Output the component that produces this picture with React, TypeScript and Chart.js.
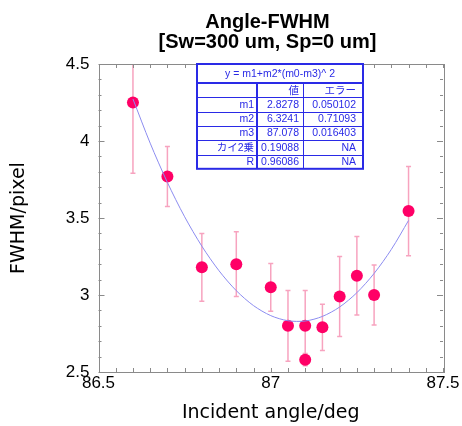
import React, { useEffect, useRef } from "react";
import { Chart, registerables } from "chart.js";

Chart.register(...registerables);

// ---- data ----
const angles = [86.6, 86.7, 86.8, 86.9, 87.0, 87.05, 87.1, 87.1, 87.15, 87.2, 87.25, 87.3, 87.4];
const fwhm = [4.25, 3.77, 3.18, 3.2, 3.05, 2.8, 2.8, 2.58, 2.79, 2.99, 3.125, 3.0, 3.545];
const fwhmErr = [0.46, 0.195, 0.22, 0.21, 0.155, 0.23, 0.23, 0.04, 0.15, 0.26, 0.255, 0.195, 0.29];

const fitAngles = [86.6, 86.65, 86.7, 86.75, 86.8, 86.85, 86.9, 86.95, 87.0, 87.05, 87.1, 87.15, 87.2, 87.25, 87.3, 87.35, 87.4];
const fitFwhm = [4.273, 3.986, 3.731, 3.508, 3.317, 3.157, 3.028, 2.931, 2.866, 2.833, 2.831, 2.861, 2.922, 3.015, 3.14, 3.296, 3.484];

const titleLines = ["Angle-FWHM", "[Sw=300 um, Sp=0 um]"];
const xTitle = "Incident angle/deg";
const yTitle = "FWHM/pixel";

const fitFormula = "y = m1+m2*(m0-m3)^ 2";
const tableHeader = ["", "値", "エラー"];
const tableParams = ["m1", "m2", "m3", "カイ2乗", "R"];
const tableValues = ["2.8278", "6.3241", "87.078", "0.19088", "0.96086"];
const tableErrors = ["0.050102", "0.71093", "0.016403", "NA", "NA"];

const PINK = "#ff0066";
const BAR = "#f7a3bf";
const FIT = "#8c8cf0";
const TBL = "#2a2ae6";
const FRAME = "#8a8a8a";

const titlePlugin = {
  id: "titleText",
  afterDraw(chart: any) {
    const ctx = chart.ctx;
    ctx.save();
    ctx.fillStyle = "#000";
    ctx.font = "bold 20px 'Liberation Sans', Arial, sans-serif";
    ctx.textAlign = "center";
    ctx.textBaseline = "middle";
    ctx.fillText(titleLines[0], 267.5, 22);
    ctx.fillText(titleLines[1], 267.5, 42);
    ctx.restore();
  },
};

const framePlugin = {
  id: "frameTicks",
  afterDatasetsDraw(chart: any) {
    const { ctx, chartArea: a, scales } = chart;
    const xs = scales.x;
    const ys = scales.y;
    ctx.save();
    ctx.strokeStyle = FRAME;
    ctx.lineWidth = 1;
    ctx.strokeRect(Math.round(a.left) + 0.5, Math.round(a.top) + 0.5, Math.round(a.right - a.left), Math.round(a.bottom - a.top));
    ctx.beginPath();
    for (let i = 0; i <= 20; i++) {
      const v = 86.5 + i * 0.05;
      const px = Math.round(xs.getPixelForValue(v)) + 0.5;
      ctx.moveTo(px, a.bottom);
      ctx.lineTo(px, a.bottom - 4);
      ctx.moveTo(px, a.top);
      ctx.lineTo(px, a.top + 4);
    }
    for (let i = 0; i <= 20; i++) {
      const v = 2.5 + i * 0.1;
      const py = Math.round(ys.getPixelForValue(v)) + 0.5;
      const len = i % 5 === 0 ? 6 : 3;
      ctx.moveTo(a.left, py);
      ctx.lineTo(a.left + len, py);
      ctx.moveTo(a.right, py);
      ctx.lineTo(a.right - len, py);
    }
    ctx.stroke();
    ctx.restore();
  },
};

const errorPlugin = {
  id: "errorBars",
  beforeDatasetsDraw(chart: any) {
    const { ctx, chartArea: a, scales } = chart;
    ctx.save();
    ctx.beginPath();
    ctx.rect(a.left, a.top, a.right - a.left, a.bottom - a.top);
    ctx.clip();
    ctx.strokeStyle = BAR;
    ctx.lineWidth = 1.5;
    ctx.beginPath();
    angles.forEach((x, i) => {
      const px = scales.x.getPixelForValue(x);
      const top = scales.y.getPixelForValue(fwhm[i] + fwhmErr[i]);
      const bot = scales.y.getPixelForValue(fwhm[i] - fwhmErr[i]);
      ctx.moveTo(px, top);
      ctx.lineTo(px, bot);
      ctx.moveTo(px - 2.5, top);
      ctx.lineTo(px + 2.5, top);
      ctx.moveTo(px - 2.5, bot);
      ctx.lineTo(px + 2.5, bot);
    });
    ctx.stroke();
    ctx.restore();
  },
};

const tablePlugin = {
  id: "fitTable",
  afterDraw(chart: any) {
    const ctx = chart.ctx;
    const L = 197, R = 363, T = 64, H0 = 19, RH = 14.3;
    const c1 = 257, c2 = 303;
    const nRows = tableParams.length + 1;
    const B = T + H0 + RH * nRows;
    ctx.save();
    ctx.fillStyle = "#fff";
    ctx.fillRect(L, T, R - L, B - T);
    ctx.strokeStyle = TBL;
    ctx.lineWidth = 2;
    ctx.strokeRect(L, T, R - L, B - T);
    ctx.beginPath();
    ctx.moveTo(L, T + H0);
    ctx.lineTo(R, T + H0);
    ctx.moveTo(c1, T + H0);
    ctx.lineTo(c1, B);
    ctx.stroke();
    ctx.lineWidth = 1;
    ctx.beginPath();
    for (let r = 1; r < nRows; r++) {
      const y = Math.round(T + H0 + RH * r) + 0.5;
      ctx.moveTo(L, y);
      ctx.lineTo(R, y);
    }
    ctx.moveTo(c2 + 0.5, T + H0);
    ctx.lineTo(c2 + 0.5, B);
    ctx.stroke();

    ctx.fillStyle = TBL;
    ctx.font = "10.5px 'Liberation Sans', 'Noto Sans CJK JP', sans-serif";
    ctx.textBaseline = "middle";
    ctx.textAlign = "center";
    ctx.fillText(fitFormula, (L + R) / 2, T + H0 / 2 + 0.5);
    ctx.textAlign = "right";
    const rows = [tableHeader, ...tableParams.map((p, i) => [p, tableValues[i], tableErrors[i]])];
    rows.forEach((row, r) => {
      const y = T + H0 + RH * r + RH / 2 + 0.5;
      ctx.fillText(row[0], c1 - 3, y);
      ctx.fillText(row[1], c2 - 4, y);
      ctx.fillText(row[2], R - 7, y);
    });
    ctx.restore();
  },
};

const plainLabel = (v: any) => String(Number(v));

export default function App() {
  const ref = useRef<HTMLCanvasElement | null>(null);
  useEffect(() => {
    document.body.style.margin = "0";
    if (!ref.current) return;
    const chart = new Chart(ref.current, {
      type: "scatter",
      data: {
        datasets: [
          {
            type: "line",
            data: fitAngles.map((x, i) => ({ x, y: fitFwhm[i] })),
            borderColor: FIT,
            borderWidth: 1,
            pointRadius: 0,
            tension: 0.3,
            fill: false,
          } as any,
          {
            data: angles.map((x, i) => ({ x, y: fwhm[i] })),
            backgroundColor: PINK,
            borderWidth: 0,
            pointRadius: 6,
          },
        ],
      },
      options: {
        responsive: false,
        animation: false,
        layout: { padding: { top: 64, right: 19, left: 0, bottom: 0 } },
        plugins: { legend: { display: false }, tooltip: { enabled: false }, title: { display: false } },
        scales: {
          x: {
            type: "linear",
            min: 86.5,
            max: 87.5,
            grid: { display: false, drawTicks: false },
            border: { display: false },
            ticks: {
              stepSize: 0.5,
              padding: 1,
              color: "#000",
              callback: plainLabel,
              font: { family: "'Liberation Sans', Arial, sans-serif", size: 17 },
            },
            title: {
              display: true,
              text: xTitle,
              color: "#000",
              font: { family: "'DejaVu Sans', sans-serif", size: 19 },
              padding: { top: 0, bottom: 2 },
            },
            afterFit(s: any) {
              s.height = 54;
            },
          },
          y: {
            type: "linear",
            min: 2.5,
            max: 4.5,
            grid: { display: false, drawTicks: false },
            border: { display: false },
            ticks: {
              stepSize: 0.5,
              padding: 9,
              color: "#000",
              callback: plainLabel,
              font: { family: "'Liberation Sans', Arial, sans-serif", size: 17 },
            },
            title: {
              display: true,
              text: yTitle,
              color: "#000",
              font: { family: "'DejaVu Sans', sans-serif", size: 19 },
              padding: { top: 8, bottom: 0 },
            },
            afterFit(s: any) {
              s.width = 98.5;
            },
          },
        },
      },
      plugins: [errorPlugin, framePlugin, tablePlugin, titlePlugin],
    });
    return () => chart.destroy();
  }, []);
  return (
    <div style={{ position: "fixed", left: 0, top: 0, width: 462, height: 426, background: "#fff" }}>
      <canvas ref={ref} width={462} height={426} style={{ width: 462, height: 426, display: "block" }} />
    </div>
  );
}
